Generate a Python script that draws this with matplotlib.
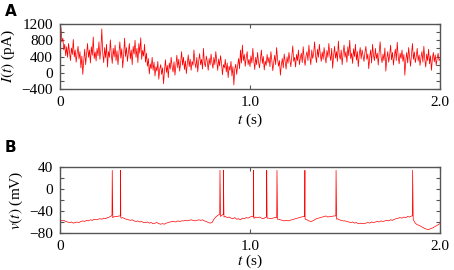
import numpy as np
import matplotlib
matplotlib.use("Agg")
import matplotlib.pyplot as plt

# ---------------- data ----------------
dt_current = 0.005  # s, sampling of the hand-read current trace
current_pA = [
    980, 1120, 760, 850, 560, 700, 420, 640, 380, 720, 520, 300, 610, 450, 820, 390, 560, 260, 480, 650,
    340, 520, 120, 410, -40, 300, 580, 200, 460, 720, 380, 560, 240, 640, 430, 880, 350, 510, 290, 600,
    420, 760, 330, 560, 1080, 480, 250, 620, 370, 700, 140, 520, 380, 810, 450, 230, 600, 390, 680, 300,
    540, 200, 470, 760, 360, 590, 120, 430, 850, 400, 620, 280, 510, 720, 340, 560, 200, 650, 460, 800,
    380, 600, 250, 720, 480, 860, 330, 550, 410, 700, 260, 480, 160, 350, -30, 220, 100, 380, 60, 260,
    -80, 150, 40, 280, -160, 90, 200, -40, 120, -270, 60, 320, 10, 180, -120, 240, 90, 380, 150, 20,
    270, -60, 180, 430, 120, 330, 40, 250, 520, 190, 380, 80, 290, -20, 230, 440, 150, 340, 60, 280,
    180, 560, 250, 120, 380, 20, 290, 470, 200, 330, 90, 600, 240, 150, 410, 280, 60, 350, 190, 460,
    250, 110, 380, 200, 520, 290, 60, 340, 170, 420, 240, -50, 200, 120, 330, 20, 240, -120, 160, 60,
    280, -80, 150, -300, 90, 210, -40, 180, 350, 100, 560, 240, 680, 300, 450, 160, 380, 520, 200, 330,
    150, 420, 240, 600, 300, 80, 380, 200, 500, 260, 120, 340, 560, 230, 400, 70, 290, 180, 450, 250,
    380, 150, 520, 300, 50, 260, 430, 200, 620, 340, 160, 300, -60, 200, 350, 120, 460, 280, 90, 390,
    230, 500, 310, 150, 420, 660, 280, 380, 140, 450, 300, 560, 200, 360, 480, 250, 640, 330, 180, 420,
    520, 300, 680, 400, 200, 560, 350, 480, 760, 420, 250, 580, 380, 700, 450, 280, 510, 330, 620, 400,
    240, 550, 380, 720, 440, 300, 600, 110, 420, 650, 360, 520, 280, 780, 430, 330, 560, 200, 480, 680,
    380, 520, 260, 640, 420, 800, 350, 480, 230, 590, 400, 700, 310, 520, 150, 450, 620, 340, 560, 420,
    280, 500, 650, 330, 460, 100, 380, 560, 240, 700, 420, 300, 600, 350, 480, 190, 520, 760, 380, 250,
    460, 300, 610, 40, 350, 520, 260, 430, 680, 320, 500, 190, 420, 580, 300, 750, 400, 220, 480, 350,
    560, 280, 450, -60, 320, 500, 240, 620, 380, 160, 460, 720, 330, 510, 250, 400, 600, 290, 440, 180,
    380, 520, 260, 650, 330, 140, 460, 300, 580, 220, 420, 60, 350, 500, 270, 440, 180, 360, 480, 300,
    340,
]

dt_voltage = 0.01  # s, sampling of the hand-read sub-threshold voltage
voltage_base_mV = [
    -56, -58, -57, -59, -60, -61, -60, -62, -61, -60,
    -61, -59, -58, -59, -57, -58, -56, -57, -55, -56,
    -55, -54, -55, -53, -54, -52, -51, -49, -51, -50,
    -50, -49, -52, -52, -54, -55, -56, -57, -56, -58,
    -59, -58, -60, -59, -61, -61, -60, -62, -61, -63,
    -62, -61, -63, -64, -63, -64, -62, -61, -60, -59,
    -59, -60, -58, -59, -58, -58, -57, -58, -57, -56,
    -57, -58, -57, -56, -57, -56, -58, -59, -61, -62,
    -61, -55, -51, -48, -46, -48, -46, -50, -52, -51,
    -53, -54, -52, -55, -54, -56, -53, -54, -52, -53,
    -51, -50, -53, -51, -52, -51, -53, -54, -52, -51,
    -53, -54, -53, -52, -52, -55, -56, -57, -58, -57,
    -58, -57, -56, -55, -54, -53, -52, -51, -50, -54,
    -56, -58, -59, -58, -56, -54, -53, -52, -51, -50,
    -49, -51, -50, -50, -49, -49, -54, -56, -57, -58,
    -58, -59, -60, -61, -60, -62, -61, -63, -62, -63,
    -63, -62, -61, -62, -60, -61, -60, -59, -60, -58,
    -59, -58, -57, -58, -56, -57, -55, -54, -53, -52,
    -53, -51, -52, -50, -51, -49, -56, -62, -65, -66,
    -68, -70, -72, -73, -74, -72, -71, -69, -67, -65,
    -63,
]

spike_times = [0.275, 0.319, 0.842, 0.860, 1.019, 1.088, 1.142, 1.289, 1.453, 1.856]
spike_peak_mV = [34, 34, 34, 34, 34, 34, 34, 34, 34, 34]
spike_onset_mV = [-48, -49, -46, -46, -50, -51, -52, -50, -49, -49]
spike_trough_mV = [-52, -53, -50, -51, -53, -53, -55, -55, -55, -55]

x_ticks = [0, 1.0, 2.0]
x_ticklabels = ["0", "1.0", "2.0"]
current_yticks = [-400, 0, 400, 800, 1200]
voltage_yticks = [-80, -40, 0, 40]

# ---------------- style ----------------
plt.rcParams["font.family"] = ["Liberation Serif", "DejaVu Serif"]
plt.rcParams["mathtext.fontset"] = "stix"
plt.rcParams["font.size"] = 11

gray = "#555555"
red = "#ff0000"

fig = plt.figure(figsize=(4.54, 2.70), dpi=100)
axA = fig.add_axes([60 / 454, 1 - 89 / 270, 380 / 454, 65 / 270])
axB = fig.add_axes([60 / 454, 1 - 233 / 270, 380 / 454, 66 / 270])

# current trace
t_cur = np.arange(len(current_pA)) * dt_current
axA.plot(t_cur, current_pA, color=red, lw=0.55)

# voltage trace: sub-threshold samples merged with spike samples
t_base = np.arange(len(voltage_base_mV)) * dt_voltage
pts_t = list(t_base)
pts_v = list(voltage_base_mV)
for ts, vp, vo, vt in zip(spike_times, spike_peak_mV, spike_onset_mV, spike_trough_mV):
    pts_t += [ts - 0.0015, ts, ts + 0.003]
    pts_v += [vo, vp, vt]
order = np.argsort(pts_t, kind="stable")
axB.plot(np.array(pts_t)[order], np.array(pts_v)[order], color=red, lw=0.5)

def style(ax, yticks, minor_step, ylim, xpad):
    ax.set_xlim(0, 2.0)
    ax.set_ylim(*ylim)
    ax.set_xticks(x_ticks)
    ax.set_xticklabels(x_ticklabels)
    ax.set_yticks(yticks)
    ax.set_yticks(np.arange(ylim[0], ylim[1] + 1e-9, minor_step), minor=True)
    ax.tick_params(which="both", direction="in", top=True, right=True,
                   length=3, width=0.8, color=gray, pad=5, labelsize=11)
    for s in ax.spines.values():
        s.set_color(gray)
        s.set_linewidth(1.0)
    ax.set_xlabel(r"$t$ (s)", labelpad=xpad)

style(axA, current_yticks, 200, (-400, 1200), 2)
style(axB, voltage_yticks, 20, (-80, 40), 0)
axA.set_ylabel(r"$I(t)$ (pA)", labelpad=3)
axB.set_ylabel(r"$v(t)$ (mV)", labelpad=3)

fig.text(5 / 454, 1 - 11 / 270, "A", family="DejaVu Sans", weight="bold", fontsize=11, va="center")
fig.text(5 / 454, 1 - 148 / 270, "B", family="DejaVu Sans", weight="bold", fontsize=11, va="center")

fig.savefig("out.png", dpi=100)
